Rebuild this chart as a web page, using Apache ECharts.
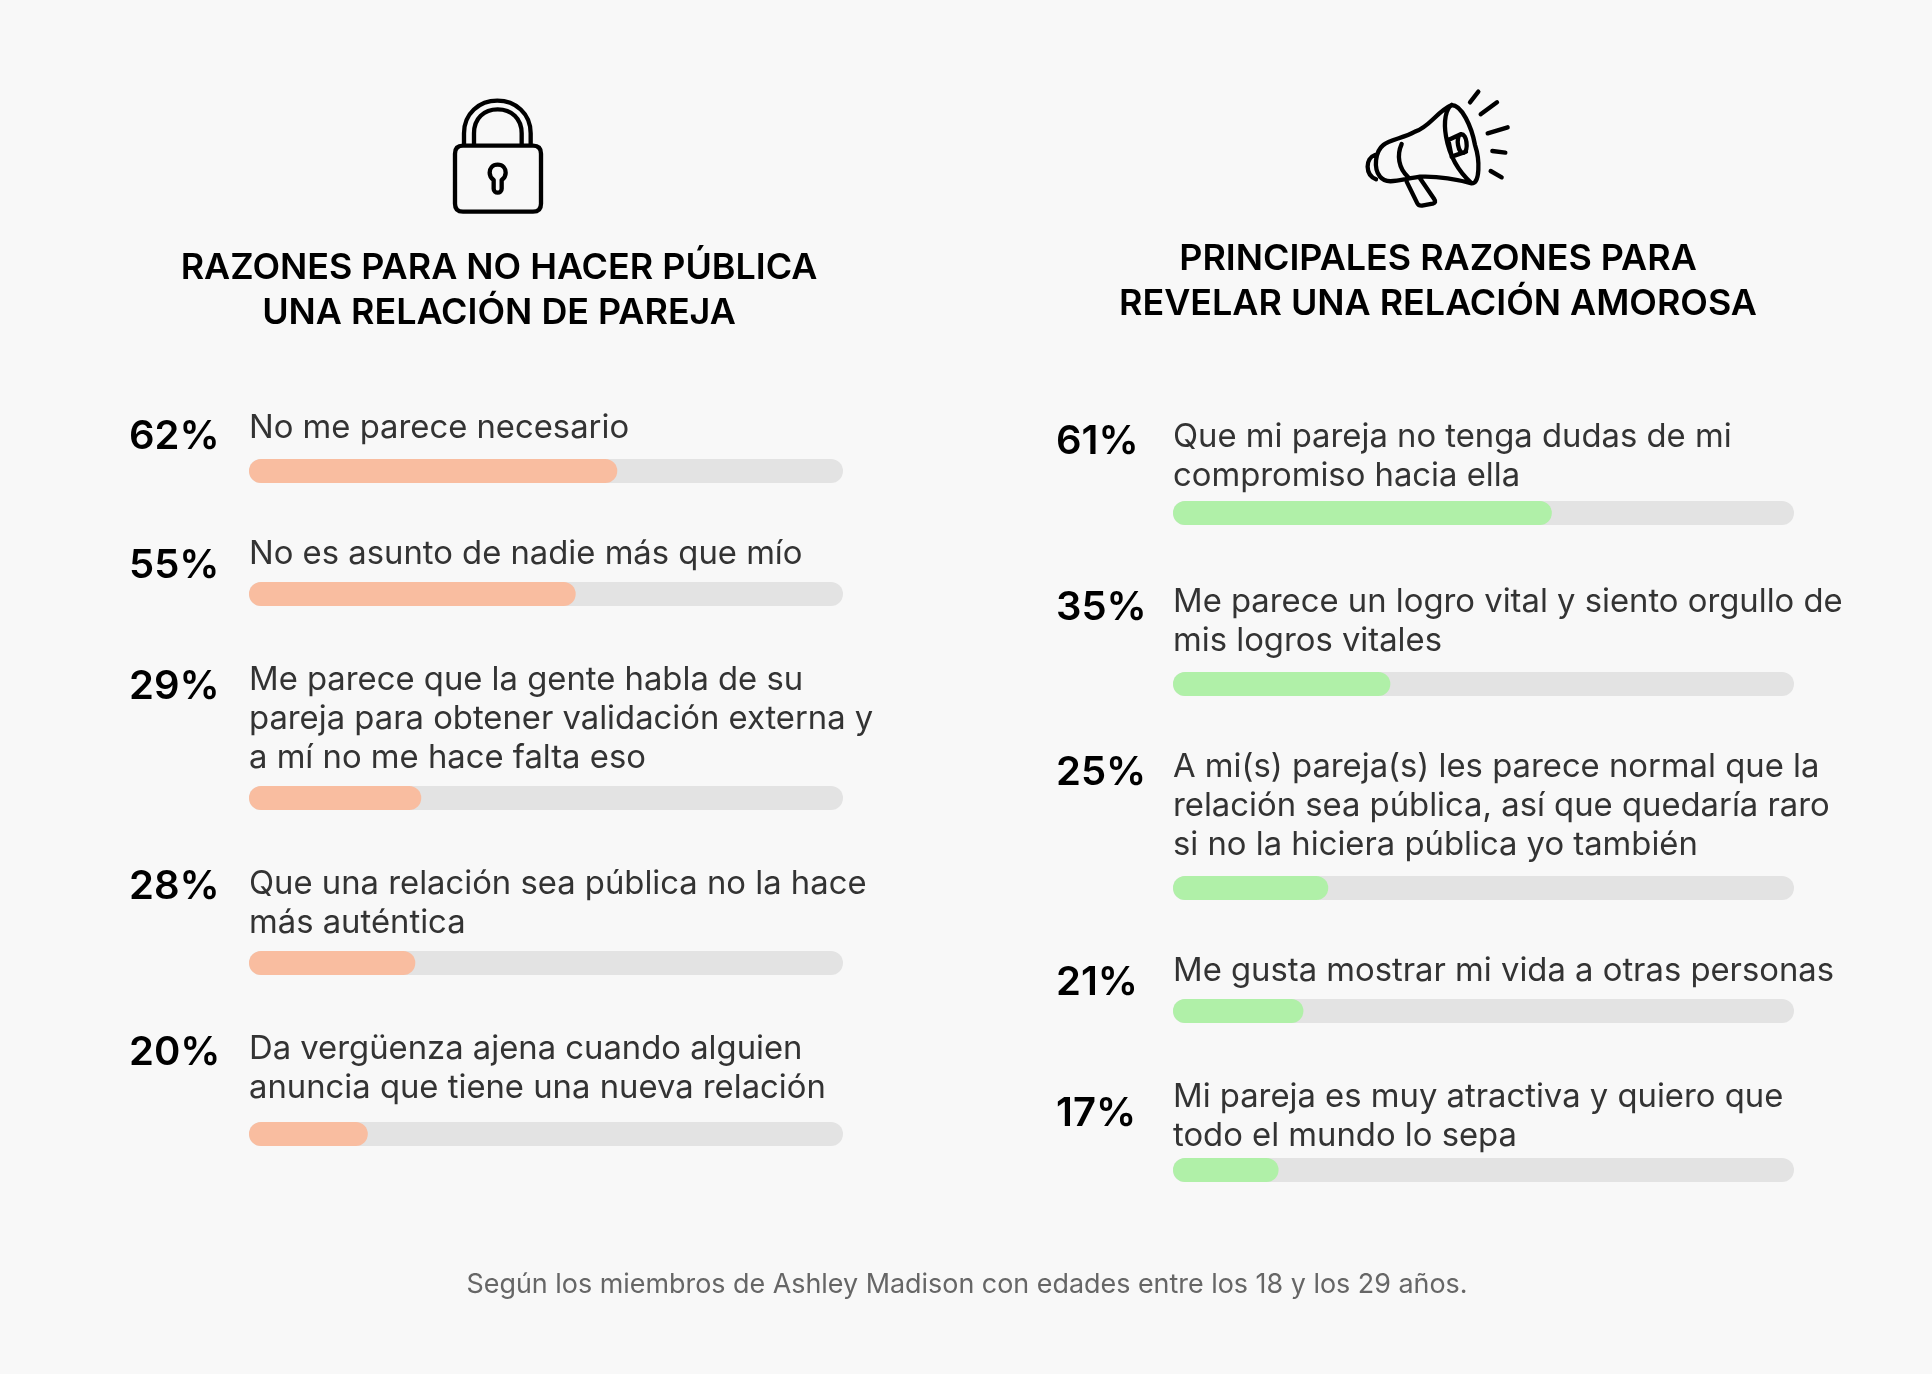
<!DOCTYPE html>
<html>
<head>
<meta charset="utf-8">
<style>
  html, body { margin: 0; padding: 0; background: #f8f8f8; }
  #main { width: 1932px; height: 1374px; }
</style>
<script src="https://cdn.jsdelivr.net/npm/echarts@6/dist/echarts.min.js"></script>
</head>
<body>
<div id="main"></div>
<script>
  // datos
  var leftTitle = 'RAZONES PARA NO HACER PÚBLICA\nUNA RELACIÓN DE PAREJA';
  var rightTitle = 'PRINCIPALES RAZONES PARA\nREVELAR UNA RELACIÓN AMOROSA';
  var footnote = 'Según los miembros de Ashley Madison con edades entre los 18 y los 29 años.';
  var leftCategories = [
    'No me parece necesario',
    'No es asunto de nadie más que mío',
    'Me parece que la gente habla de su\npareja para obtener validación externa y\na mí no me hace falta eso',
    'Que una relación sea pública no la hace\nmás auténtica',
    'Da vergüenza ajena cuando alguien\nanuncia que tiene una nueva relación'
  ];
  var leftValues = [62, 55, 29, 28, 20];
  var rightCategories = [
    'Que mi pareja no tenga dudas de mi\ncompromiso hacia ella',
    'Me parece un logro vital y siento orgullo de\nmis logros vitales',
    'A mi(s) pareja(s) les parece normal que la\nrelación sea pública, así que quedaría raro\nsi no la hiciera pública yo también',
    'Me gusta mostrar mi vida a otras personas',
    'Mi pareja es muy atractiva y quiero que\ntodo el mundo lo sepa'
  ];
  var rightValues = [61, 35, 25, 21, 17];

  // posiciones de cada fila (px)
  var leftLayout = { pctX: 129, textX: 249, barX: 249, barW: 594, color: '#f9bda0',
    barY: [471, 594, 798, 963, 1134], textY: [428, 554, 680, 884, 1049], pctY: [437, 566, 687, 887, 1053] };
  var rightLayout = { pctX: 1056, textX: 1173, barX: 1173, barW: 621, color: '#b0f0a8',
    barY: [513, 684, 888, 1011, 1170], textY: [437, 602, 767, 971, 1097], pctY: [442, 608, 773, 983, 1114] };

  var FONT = 'Inter';
  var grids = [], xAxes = [], yAxes = [], series = [], titles = [];

  function addPanel(categories, values, layout) {
    categories.forEach(function (name, i) {
      var idx = grids.length;
      grids.push({ left: layout.barX, width: layout.barW, top: layout.barY[i] - 12, height: 24 });
      xAxes.push({ gridIndex: idx, type: 'value', min: 0, max: 100, show: false });
      yAxes.push({ gridIndex: idx, type: 'category', data: [name], show: false });
      series.push({
        type: 'bar',
        xAxisIndex: idx,
        yAxisIndex: idx,
        data: [values[i]],
        barWidth: 24,
        silent: true,
        animation: false,
        itemStyle: { color: layout.color, borderRadius: 12 },
        showBackground: true,
        backgroundStyle: { color: '#e3e3e3', borderRadius: 12 }
      });
      titles.push({
        text: values[i] + '%',
        left: layout.pctX,
        top: layout.pctY[i] - 24,
        padding: 0,
        textStyle: { fontFamily: FONT, fontSize: 40, fontWeight: 600, color: '#000', lineHeight: 48 }
      });
      titles.push({
        text: name,
        left: layout.textX,
        top: layout.textY[i] - 19.5,
        padding: 0,
        textStyle: { fontFamily: FONT, fontSize: 32.8, fontWeight: 400, color: '#333', lineHeight: 39 }
      });
    });
  }

  addPanel(leftCategories, leftValues, leftLayout);
  addPanel(rightCategories, rightValues, rightLayout);

  titles.push({
    text: leftTitle, left: 499, top: 246, textAlign: 'center', padding: 0,
    textStyle: { fontFamily: FONT, fontSize: 35.9, fontWeight: 600, color: '#000', lineHeight: 45 }
  });
  titles.push({
    text: rightTitle, left: 1438, top: 237, textAlign: 'center', padding: 0,
    textStyle: { fontFamily: FONT, fontSize: 35.9, fontWeight: 600, color: '#000', lineHeight: 45 }
  });
  titles.push({
    text: footnote, left: 967, top: 1270, textAlign: 'center', padding: 0,
    textStyle: { fontFamily: FONT, fontSize: 26.9, fontWeight: 400, color: '#666', lineHeight: 30 }
  });

  // iconos: trazos en coordenadas locales a 3x
  var lockPath = 'M192,222 L192,190 C192,130 238,92 292,92 C346,92 392,130 392,190 L392,222 ' +
    'M222,222 L222,190 C222,145 252,118 293,118 C334,118 365,145 365,190 L365,222 ' +
    'M189,227 L399,227 Q423,227 423,251 L423,401 Q423,425 399,425 L189,425 Q165,425 165,401 L165,251 Q165,227 189,227 Z ' +
    'M293,284 C277,284 269,296 269,308 C269,318 274,325 281,330 L281,356 C281,372 305,372 305,356 L305,330 C312,325 317,318 317,308 C317,296 309,284 293,284 Z';
  var hornPath = 'M390,97 L415,65 M422,133 L471,97 M443,190 L503,172 M457,243 L496,248 M452,303 L485,322 ' +
    'M335,105 C300,125 305,260 395,340 C420,340 420,270 405,225 C395,170 365,105 335,105 Z ' +
    'M335,105 C290,125 270,170 225,185 C190,205 150,208 130,225 C105,245 100,295 120,320 C140,345 175,330 240,320 C290,318 340,325 395,340 ' +
    'M185,222 C170,255 175,295 205,322 ' +
    'M105,255 C75,265 75,315 108,328 ' +
    'M200,335 L232,400 Q236,408 246,407 L278,401 Q290,397 283,388 L240,325 ' +
    'M325,210 L362,193 M335,260 L378,245 M325,210 L335,260 ' +
    'M362,193 C382,190 385,240 372,248 C355,255 345,200 362,193 Z';

  // el componente graphic no tiene tipo path, se registran como formas
  echarts.graphic.registerShape('lockIcon', echarts.graphic.extendPath(lockPath, {}));
  echarts.graphic.registerShape('hornIcon', echarts.graphic.extendPath(hornPath, {}));

  function icon(type, x, y) {
    return {
      type: type,
      x: x, y: y, scaleX: 1 / 3, scaleY: 1 / 3,
      silent: true,
      style: { fill: 'none', stroke: '#000', lineWidth: 13, lineCap: 'round', lineJoin: 'round' }
    };
  }

  var myChart = echarts.init(document.getElementById('main'));
  myChart.setOption({
    backgroundColor: '#f8f8f8',
    animation: false,
    title: titles,
    grid: grids,
    xAxis: xAxes,
    yAxis: yAxes,
    series: series,
    graphic: [icon('lockIcon', 400, 70), icon('hornIcon', 1340, 70)]
  });
</script>
</body>
</html>
